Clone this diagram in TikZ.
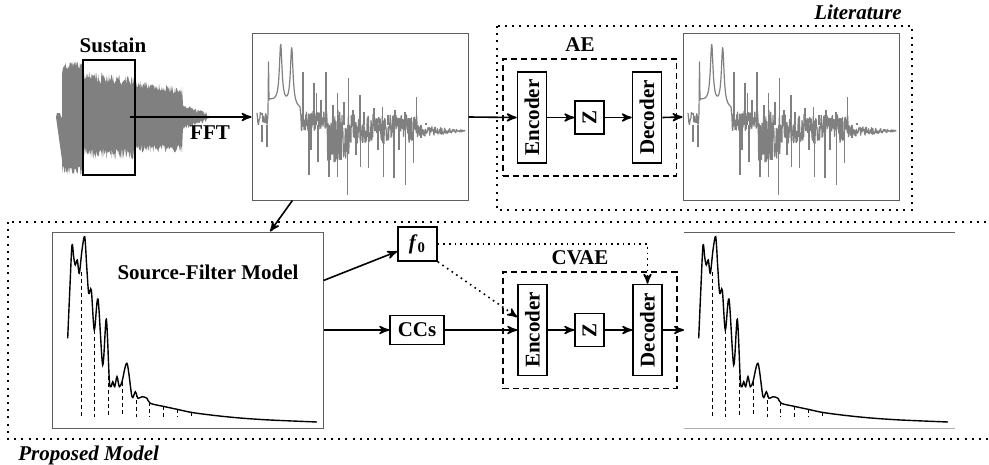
\documentclass[tikz,border=0pt]{standalone}
\usepackage{fontspec}
\setmainfont{Liberation Serif}
\usepackage{graphicx}
\usetikzlibrary{positioning}
\usetikzlibrary{arrows,shapes}
\usetikzlibrary{calc,fit}

\definecolor{wavegray}{RGB}{128,128,128}
\definecolor{framelight}{RGB}{175,175,175}
\definecolor{framedark}{RGB}{95,95,95}

\tikzset{
  lbl/.style={font=\bfseries\fontsize{10.5}{12}\selectfont, inner sep=1pt},
  ilbl/.style={font=\bfseries\itshape\fontsize{10.5}{12}\selectfont, inner sep=1pt},
  blockbox/.style={draw, thick, inner sep=0pt, font=\bfseries\fontsize{10.5}{12}\selectfont},
  netbox/.style={blockbox, minimum width=14.5pt, minimum height=45.5pt},
  latbox/.style={blockbox, minimum width=14.5pt, minimum height=16.5pt},
  specbox/.style={draw=framedark, line width=0.5pt, inner sep=0pt, minimum width=108pt, minimum height=83pt},
  groupbox/.style={draw, line width=0.9pt, dash pattern=on 1pt off 2.6pt},
  modbox/.style={draw, line width=0.8pt, dash pattern=on 3pt off 2pt},
  flow/.style={->, >=stealth', thick},
  condflow/.style={->, >=stealth', line width=0.8pt, dash pattern=on 0.8pt off 2pt},
  specline/.style={draw=wavegray, line width=0.6pt, line join=round},
  envline/.style={line width=0.7pt},
  harmline/.style={line width=0.5pt, dash pattern=on 2pt off 1.5pt},
}

% measured spectrum (gray trace)
\newcommand{\fftspectrum}{%
  \pgfmathsetseed{7}%
  \draw[specline] plot[domain=257:268,samples=24] (\x,{118+14*(rnd-0.5)})
    -- (268.5,62) -- (269,100)
    -- plot[domain=269.5:300,samples=123] (\x,{100+0.3*(\x-269)-58/(1+((\x-280.7)/1.6)^2)-58/(1+((\x-291.7)/1.6)^2)})
    -- plot[domain=300.5:326,samples=60] (\x,{121+20*(rnd-0.5)})
    -- plot[domain=326.5:350,samples=60] (\x,{136+52*(rnd-0.5)})
    -- plot[domain=350.5:417,samples=160] (\x,{129+30*(rnd-0.5)})
    -- plot[domain=417.5:465,samples=110] (\x,{131+(12-0.22*(\x-417))*(rnd-0.5)});
  \foreach \sx/\sy in {262/142, 267/147, 303/72, 309/175, 311/150, 314/83, 316.7/93, 318/162,
      321/100, 326/72, 329/177, 333/105, 337.7/93, 337.5/177, 341/160, 344/102, 347.7/195,
      348.3/78, 353/110, 356/155, 360/95, 360.5/167, 364/112, 368.3/168, 374/108, 378/150,
      382.7/107, 383.3/177, 388/115, 394/178, 395/110, 399/150, 405/112, 405.5/185,
      409/118, 413.3/163, 416.7/97, 421/138, 426/123}
    \draw[specline] (\sx,125) -- (\sx,\sy);
}

% source-filter envelope with harmonics
\newcommand{\sfcurve}{%
  \draw[envline] plot[smooth, tension=0.5] coordinates {(67.7,338.3) (69.8,290) (72,245)
    (73.8,258) (75.3,265) (77.3,260) (79.3,273.3) (82,250) (84.7,236.7) (86.8,268)
    (88.7,293.3) (91.3,290) (94.3,330) (98,299) (102.7,365) (106.3,319.3) (109.3,380)
    (111,386.7) (112.7,381.7) (114.7,386.7) (117,376.7) (119.3,386.7) (122,381.7)
    (127,363.3) (132,396.7) (135.3,391.7) (138,398.3) (142,396.7) (147,398.3)
    (150.3,403.3) (164,406.5) (178,409.5) (192,412.5) (215,415.5) (240,418)
    (270,420) (317,422)};
  \foreach \hx/\hy in {81/272, 94.3/330, 108/376, 122/382, 136/393, 149.3/402,
      163/406.3, 177/409.3, 191/412.3}
    \draw[harmline] (\hx,\hy) -- (\hx,416.7);
}

\begin{document}
\begin{tikzpicture}[x=0.5pt, y=-0.5pt]
  \clip (0,0) rectangle (989,465);

  % waveform
  \pgfmathsetseed{11}
  \fill[wavegray] (56,117) -- (57,113) -- (60,113) -- (61,117) -- (62,118)
    -- (62,75) -- plot[domain=62.5:83,samples=35] (\x,{61+10*rnd})
    -- plot[domain=83.5:135,samples=90] (\x,{71+0.1*(\x-83)+11*rnd})
    -- plot[domain=135.5:182,samples=80] (\x,{80+0.15*(\x-135)+9*rnd})
    -- plot[domain=183:207,samples=40] (\x,{104+0.35*(\x-183)+4*rnd})
    -- (210,116) -- (210,118)
    -- plot[domain=207:183,samples=40] (\x,{130-0.35*(\x-183)-4*rnd})
    -- plot[domain=182:135.5,samples=80] (\x,{144+9*rnd})
    -- plot[domain=135:83.5,samples=90] (\x,{148+12*rnd})
    -- plot[domain=83:62.5,samples=35] (\x,{165+10*rnd})
    -- (62,160) -- cycle;

  \node[draw, thick, inner sep=0pt, minimum width=26pt, minimum height=57.5pt] (sustain) at (109,117.5) {};
  \node[lbl] at (113,45) {Sustain};
  \coordinate (wavemid) at (130,117);

  % spectrum
  \node[specbox] (spec1) at (360,117) {};
  \fftspectrum
  \draw[flow] (wavemid) -- (spec1.west);
  \node[lbl] at (210,133) {FFT};

  % literature: AE
  \node[netbox] (enc1) at (532,117.5) {\rotatebox{90}{Encoder}};
  \node[latbox] (z1) at (589.5,117.5) {\rotatebox{90}{Z}};
  \node[netbox] (dec1) at (647,117.5) {\rotatebox{90}{Decoder}};
  \node[modbox, fit=(enc1)(dec1), inner xsep=7pt, inner ysep=6pt] (ae) {};
  \node[lbl] at (580,45) {AE};

  \node[specbox] (spec2) at (791,117) {};
  \begin{scope}[shift={(431,0)}]
    \fftspectrum
  \end{scope}

  \draw[flow] (spec1.east) -- (enc1.west);
  \draw[flow] (enc1.east) -- (z1.west);
  \draw[flow] (z1.east) -- (dec1.west);
  \draw[flow] (dec1.east) -- (spec2.west);

  \draw[groupbox] (497,26) rectangle (912,210);
  \node[ilbl] at (858,12) {Literature};

  % proposed model
  \node[draw=framedark, line width=0.5pt, inner sep=0pt, minimum width=135.5pt, minimum height=98pt] (sf) at (187.5,330) {};
  \sfcurve
  \node[lbl] at (208,272) {Source-Filter Model};
  \draw[flow] (spec1.231) -- (sf.50);

  \node[blockbox, minimum width=19.5pt, minimum height=17pt] (f0) at (417.5,244) {\textit{f}\textsubscript{0}};
  \node[blockbox, minimum width=27pt, minimum height=14.5pt] (ccs) at (417,330) {CCs};

  \node[netbox] (enc2) at (532.5,330) {\rotatebox{90}{Encoder}};
  \node[latbox] (z2) at (589.5,330) {\rotatebox{90}{Z}};
  \node[netbox] (dec2) at (647.5,330) {\rotatebox{90}{Decoder}};
  \node[modbox, fit=(enc2)(dec2), inner xsep=7pt, inner ysep=6pt] (cvae) {};
  \node[lbl] at (580,258) {CVAE};
  \coordinate (outl) at (684,330);

  \draw[flow] (sf.20) -- (f0.200);
  \draw[flow] (sf.east) -- (ccs.west);
  \draw[flow] (ccs.east) -- (enc2.west);
  \draw[flow] (enc2.east) -- (z2.west);
  \draw[flow] (z2.east) -- (dec2.west);
  \draw[flow] (dec2.east) -- (outl);
  \draw[condflow] (f0.east) -| (dec2.north);
  \draw[condflow] (f0.south east) -- (enc2.140);

  % reconstructed envelope
  \draw[framedark, line width=0.5pt] (684,232) -- (955,232);
  \draw[framelight, line width=0.5pt] (684,428) -- (955,428);
  \begin{scope}[shift={(631,0)}]
    \sfcurve
  \end{scope}

  \draw[groupbox] (8,222) rectangle (1000,439);
  \node[ilbl, anchor=west] at (16,455) {Proposed Model};
\end{tikzpicture}
\end{document}
